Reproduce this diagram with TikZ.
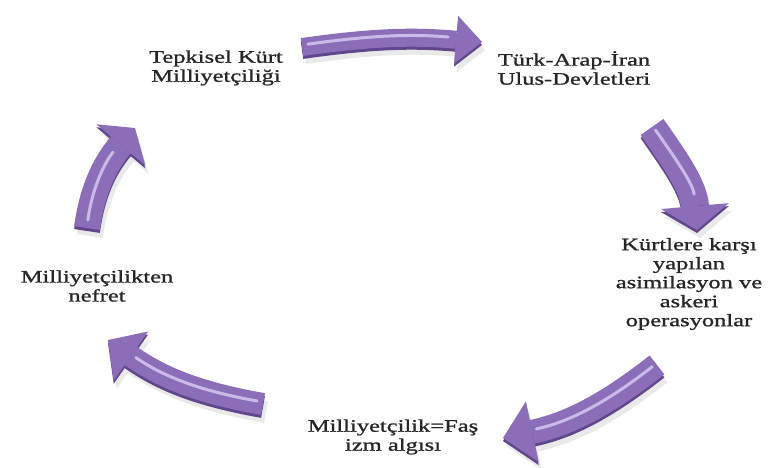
\documentclass[tikz,border=0pt]{standalone}
\usepackage{fontspec}
\setmainfont{Liberation Serif}[FakeStretch=1.4, FakeBold=1.2]
\usetikzlibrary{arrows.meta}

\definecolor{cycpurple}{RGB}{140,110,184}
\definecolor{cycdark}{RGB}{96,70,138}
\definecolor{cyclight}{RGB}{214,200,240}

\begin{document}
\begin{tikzpicture}[
        x=1pt, y=1pt,
        every node/.style={align=center, text=black!85, font=\fontsize{17.5}{19}\selectfont},
        cycshadow/.style={draw=black!40, opacity=.22},
        cycedge/.style={draw=cycdark},
        cycbody/.style={draw=cycpurple},
        cycglint/.style={draw=cyclight, line width=3pt, line cap=round, opacity=.85, shorten <=6pt, shorten >=34pt}
    ]
    \useasboundingbox (0,0) rectangle (774,467);

    % texts of the cycle
    \node (tepki)  at (216,399) {Tepkisel Kürt\\Milliyetçiliği};
    \node (devlet) at (574,399) {Türk-Arap-İran\\Ulus-Devletleri};
    \node (asimil) at (689,183) {Kürtlere karşı\\yapılan\\asimilasyon ve\\askeri\\operasyonlar};
    \node (fasizm) at (393,30)  {Milliyetçilik=Faş\\izm algısı};
    \node (nefret) at (97,181)  {Milliyetçilikten\\nefret};

    % arrow ends
    \coordinate (s1) at (302,420); \coordinate (e1) at (482,425);
    \coordinate (s2) at (652,340); \coordinate (e2) at (697,237);
    \coordinate (s3) at (657,102); \coordinate (e3) at (503,29);
    \coordinate (s4) at (263,63);  \coordinate (e4) at (108,127);
    \coordinate (s5) at (87,239);  \coordinate (e5) at (135,339);

    \foreach \n/\o/\i/\w/\hw/\hl in {1/8/175/18/48/26, 2/-55/95/28/68/24, 3/-142/12/24/62/30, 4/170/-35/22/60/28, 5/82/-130/26/64/22} {
        \draw[cycshadow, line width=\w pt, -{Triangle[width=\hw pt, length=\hl pt, line width=0pt]}]
            ([shift={(3,-8)}]s\n) to[out=\o, in=\i] ([shift={(3,-8)}]e\n);
        \draw[cycedge, line width=\w pt, -{Triangle[width=\hw pt, length=\hl pt, line width=0pt]}]
            ([yshift=-3pt]s\n) to[out=\o, in=\i] ([yshift=-3pt]e\n);
        \draw[cycbody, line width=\w pt, -{Triangle[width=\hw pt, length=\hl pt, line width=0pt]}]
            (s\n) to[out=\o, in=\i] (e\n);
        \draw[cycglint] ([yshift=2pt]s\n) to[out=\o, in=\i] ([yshift=2pt]e\n);
    }
\end{tikzpicture}
\end{document}
